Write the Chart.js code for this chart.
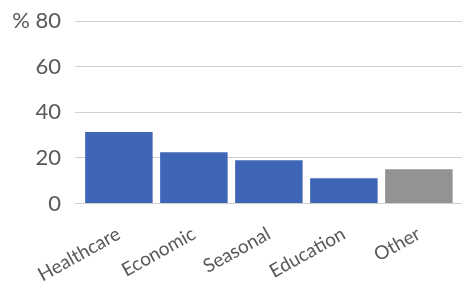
<!DOCTYPE html>
<html><head><meta charset="utf-8">
<script src="https://cdn.jsdelivr.net/npm/chart.js@4"></script>
<style>html,body{margin:0;padding:0;background:#fff;}#wrap{width:462px;height:286px;position:relative;}</style>
</head><body><div id="wrap"><canvas id="c"></canvas></div>
<script>
const categories = ['Healthcare', 'Economic', 'Seasonal', 'Education', 'Other'];
const values = [31.3, 22.5, 19, 11.1, 15];
const barColors = ['#3F66B6', '#3F66B6', '#3F66B6', '#3F66B6', '#939393'];
const yTicks = [0, 20, 40, 60, 80];
const yUnit = '%';

const textColor = '#595959';
const fontFamily = 'Lato, "Open Sans", sans-serif';

new Chart(document.getElementById('c'), {
  type: 'bar',
  data: {
    datasets: [{
      data: categories.map((c, i) => ({ x: i, y: values[i] })),
      backgroundColor: barColors,
      borderWidth: 0,
      categoryPercentage: 0.9,
      barPercentage: 1.0
    }]
  },
  options: {
    responsive: true,
    maintainAspectRatio: false,
    animation: false,
    layout: { padding: { top: 21, left: 0, right: 0, bottom: 0 } },
    plugins: { legend: { display: false }, tooltip: { enabled: false } },
    scales: {
      x: {
        type: 'linear',
        offset: false,
        min: -0.505,
        max: 4.575,
        grid: { display: false, drawTicks: false, offset: false },
        border: { display: false },
        afterBuildTicks: (s) => { s.ticks = categories.map((c, i) => ({ value: i })); },
        afterFit: (s) => { s.height = 82.5; s.paddingLeft = 0; s.paddingRight = 0; },
        ticks: {
          autoSkip: false,
          minRotation: 29,
          maxRotation: 29,
          padding: 19,
          color: textColor,
          font: { family: fontFamily, size: 19 },
          callback: (v) => categories[v]
        }
      },
      y: {
        min: 0,
        max: 80,
        afterBuildTicks: (s) => { s.ticks = yTicks.map(v => ({ value: v })); },
        afterFit: (s) => { s.width = 81; s.paddingTop = 0; s.paddingBottom = 0; },
        border: { display: false },
        grid: { color: '#d0d0d0', lineWidth: 1, tickLength: 6, drawTicks: true },
        ticks: {
          padding: 14,
          color: textColor,
          font: { family: fontFamily, size: 22 },
          callback: (v) => v === yTicks[yTicks.length - 1] ? yUnit + ' ' + v : String(v)
        }
      }
    }
  }
});
</script>
</body></html>
